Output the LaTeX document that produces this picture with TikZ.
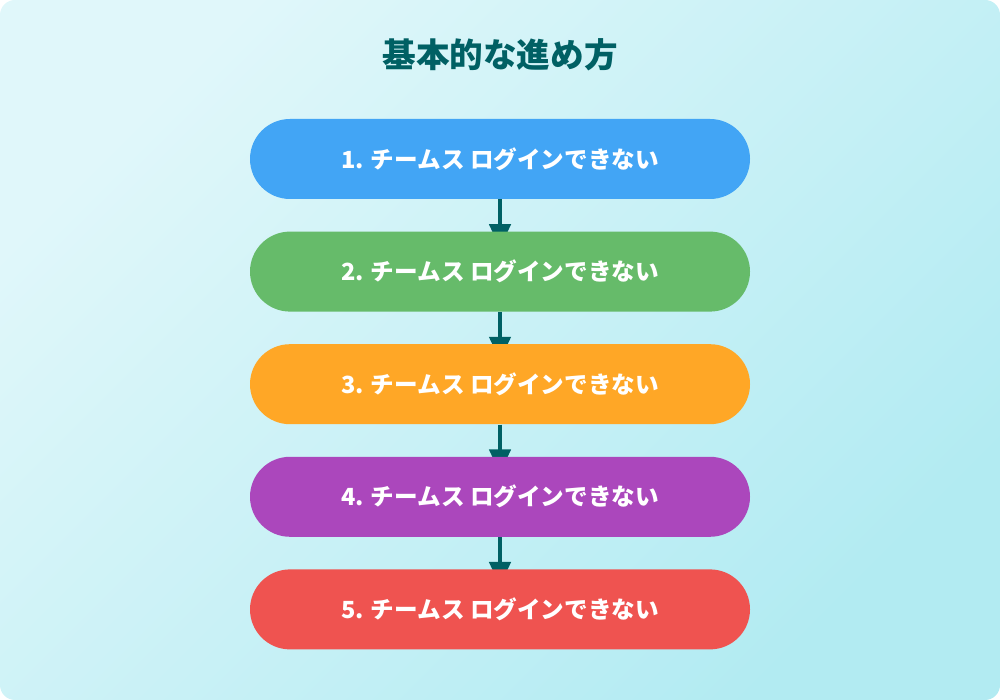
\documentclass[tikz,border=0pt]{standalone}
\usepackage{fontspec}
\setmainfont{Noto Sans CJK JP}
\usepackage{tikz}
\usetikzlibrary{positioning,chains,backgrounds,arrows.meta}
\definecolor{bgtop}{HTML}{E0F7FA}
\definecolor{bgbottom}{HTML}{B2EBF2}
\definecolor{deepteal}{HTML}{006064}
\definecolor{pillblue}{HTML}{42A5F5}
\definecolor{pillgreen}{HTML}{66BB6A}
\definecolor{pillorange}{HTML}{FFA726}
\definecolor{pillpurple}{HTML}{AB47BC}
\definecolor{pillred}{HTML}{EF5350}
\tikzset{
	flow steps/.style={
		start chain=going below,
		node distance=15.9pt,
		every join/.style={flow arrow}
	},
	stage pill/.style={
		on chain,
		rectangle,
		fill=#1,
		rounded corners=20pt,
		minimum width=250pt,
		minimum height=40pt,
		text=white,
		font=\fontsize{11.8}{14}\selectfont\bfseries
	},
	flow arrow/.style={
		draw=deepteal,
		line width=2.2pt,
		-{Triangle[width=10.5pt,length=12pt]}
	},
	title text/.style={
		text=deepteal,
		font=\fontsize{16.8}{20}\selectfont\bfseries
	}
}

\begin{document}
\begin{tikzpicture}[flow steps]
	\useasboundingbox (0,0) rectangle (500pt,350pt);
	\node[title text] (title) at (250pt,322.5pt) {基本的な進め方};
	\node[stage pill=pillblue] (s1) at (250pt,270.5pt) {1. チームス ログインできない};
	\node[stage pill=pillgreen] (s2) {2. チームス ログインできない};
	\node[stage pill=pillorange] (s3) {3. チームス ログインできない};
	\node[stage pill=pillpurple] (s4) {4. チームス ログインできない};
	\node[stage pill=pillred] (s5) {5. チームス ログインできない};
	\begin{pgfonlayer}{background}
		\shade[rounded corners=7.5pt,top color=bgtop,bottom color=bgbottom,shading angle=45]
			(0,0) rectangle (500pt,350pt);
		\foreach \a/\b in {s1/s2,s2/s3,s3/s4,s4/s5}
			\draw[flow arrow] (\a.south) -- ([yshift=-8.5pt]\b.north);
	\end{pgfonlayer}
\end{tikzpicture}
\end{document}
